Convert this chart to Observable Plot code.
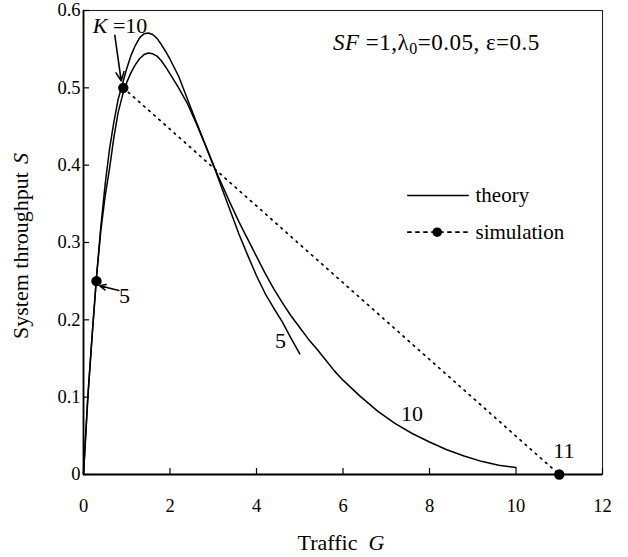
<!DOCTYPE html>
<html><head><meta charset="utf-8">
<script src="https://cdn.jsdelivr.net/npm/d3@7"></script>
<script src="https://cdn.jsdelivr.net/npm/@observablehq/plot@0.6"></script>
<style>
body{margin:0;background:#fff}
svg, svg text{font-family:"Liberation Serif","Times New Roman",Times,"DejaVu Serif",serif !important}
</style>
</head><body><div id="chart"></div><script>
// Theory curve K = 5
const g5 = [0,0.1,0.2,0.3,0.4,0.5,0.6,0.7,0.8,0.9,1.0,1.1,1.2,1.3,1.4,1.5,1.6,1.7,1.8,1.9,2.0,2.2,2.4,2.6,2.8,3.0,3.2,3.4,3.6,3.8,4.0,4.2,4.4,4.6,4.8,5.0];
const s5 = [0,0.10,0.18,0.255,0.32,0.375,0.42,0.455,0.485,0.505,0.525,0.542,0.555,0.565,0.570,0.571,0.569,0.564,0.556,0.547,0.537,0.515,0.486,0.457,0.429,0.401,0.370,0.340,0.310,0.283,0.257,0.234,0.215,0.197,0.176,0.156];
// Theory curve K = 10
const g10 = [0,0.1,0.2,0.3,0.4,0.5,0.6,0.7,0.8,0.9,1.0,1.1,1.2,1.3,1.4,1.5,1.6,1.7,1.8,1.9,2.0,2.2,2.4,2.6,2.8,3.0,3.2,3.4,3.6,3.8,4.0,4.2,4.4,4.6,4.8,5.0,5.2,5.4,5.6,5.8,6.0,6.4,6.8,7.2,7.6,8.0,8.4,8.8,9.2,9.6,10.0];
const s10 = [0,0.10,0.18,0.255,0.315,0.36,0.395,0.435,0.468,0.49,0.507,0.52,0.53,0.538,0.543,0.545,0.544,0.541,0.535,0.527,0.518,0.50,0.48,0.455,0.428,0.40,0.375,0.35,0.326,0.304,0.282,0.26,0.24,0.222,0.205,0.19,0.175,0.162,0.148,0.134,0.122,0.101,0.082,0.066,0.053,0.042,0.032,0.024,0.017,0.012,0.009];
// Simulation points
const simK = [5, 10, 11];
const simG = [0.3, 0.92, 11];
const simS = [0.25, 0.5, 0];
// Axes
const xTicks = [0,2,4,6,8,10,12];
const yTicks = [0,0.1,0.2,0.3,0.4,0.5,0.6];
const yTickLabels = ["0","0.1","0.2","0.3","0.4","0.5","0.6"];
const xTitle = "Traffic", xVar = "G";
const yTitle = "System throughput", yVar = "S";
const legendLabels = ["theory", "simulation"];

// Annotation anchors (data coordinates)
const curveLabels = [
  {t:"5", G:0.948, S:0.231},
  {t:"5", G:4.555, S:0.173},
  {t:"10", G:7.595, S:0.0785},
  {t:"11", G:11.105, S:0.031}
];
const arrows = [
  {x1:0.724, y1:0.568, x2:0.872, y2:0.509},
  {x1:0.816, y1:0.238, x2:0.377, y2:0.244}
];
const kLabelPos = {G:0.224, S:0.570};
const paramPos = {G:5.78, S:0.548};
const legendPos = {G1:7.484, G2:8.909, Gdot:8.178, Gtext:9.064, S:[0.3608, 0.3133]};

const theory = [
  ...g5.map((g,i)=>({K:5, G:g, S:s5[i]})),
  ...g10.map((g,i)=>({K:10, G:g, S:s10[i]}))
];
const sim = simG.map((g,i)=>({K:simK[i], G:g, S:simS[i]}));
const simLine = sim.filter(d=>d.K >= 10);

const legendRows = legendLabels.map((l,i)=>({label:l, G1:legendPos.G1, G2:legendPos.G2, S:legendPos.S[i]}));

const plot = Plot.plot({
  width: 628, height: 557,
  marginLeft: 83, marginRight: 26, marginTop: 10, marginBottom: 83,
  x: {domain:[0,12]},
  y: {domain:[0,0.6]},
  style: {fontSize:"18.5px", color:"#000", background:"#fff", overflow:"visible"},
  marks: [
    Plot.frame({stroke:"#222", strokeWidth:1.1}),
    Plot.ruleY([0], {stroke:"#000", strokeWidth:1.8}),
    Plot.ruleX([0], {stroke:"#000", strokeWidth:1.8}),
    Plot.axisX({ticks:xTicks, tickSize:-6, tickPadding:30, label:null, tickFormat:d=>String(d), stroke:"#000", strokeWidth:1.2}),
    Plot.axisY({ticks:yTicks, tickSize:-6, tickPadding:9, label:null, tickFormat:d=>yTickLabels[yTicks.indexOf(d)], stroke:"#000", strokeWidth:1.2}),
    Plot.line(theory, {x:"G", y:"S", z:"K", stroke:"#000", strokeWidth:1.5}),
    Plot.line(simLine, {x:"G", y:"S", stroke:"#000", strokeWidth:1.7, strokeDasharray:"1.6,5.2"}),
    Plot.dot(sim, {x:"G", y:"S", r:5.2, fill:"#000", stroke:null}),
    Plot.arrow(arrows, {x1:"x1", y1:"y1", x2:"x2", y2:"y2", stroke:"#000", strokeWidth:1.6, headLength:9, headAngle:50}),
    Plot.text(curveLabels, {x:"G", y:"S", text:"t", fontSize:22, lineAnchor:"middle", textAnchor:"middle", fill:"#000"}),
    // legend
    Plot.link(legendRows.slice(0,1), {x1:"G1", x2:"G2", y1:"S", y2:"S", stroke:"#000", strokeWidth:1.5}),
    Plot.link(legendRows.slice(1), {x1:"G1", x2:"G2", y1:"S", y2:"S", stroke:"#000", strokeWidth:1.7, strokeDasharray:"4.5,3.5"}),
    Plot.dot(legendRows.slice(1), {x:legendPos.Gdot, y:"S", r:4.8, fill:"#000", stroke:null}),
    Plot.text(legendRows, {x:legendPos.Gtext, y:"S", text:"label", fontSize:21, textAnchor:"start", lineAnchor:"middle", fill:"#000"})
  ]
});
document.getElementById("chart").appendChild(plot);

const X = plot.scale("x"), Y = plot.scale("y");
const svg = d3.select(plot);

// K = 10 label
const kt = svg.append("text").attr("x", X.apply(kLabelPos.G)).attr("y", Y.apply(kLabelPos.S))
  .attr("text-anchor","start").attr("font-size", 22).attr("fill", "#000");
kt.append("tspan").attr("font-style","italic").text("K");
kt.append("tspan").text(" =10");

// parameter text
const pt = svg.append("text").attr("x", X.apply(paramPos.G)).attr("y", Y.apply(paramPos.S))
  .attr("text-anchor","start").attr("font-size", 23).attr("letter-spacing", 0.5).attr("fill", "#000");
pt.append("tspan").attr("font-style","italic").text("SF");
pt.append("tspan").text(" =1,\u03bb");
pt.append("tspan").attr("font-size", 16).attr("dy", 4).text("0");
pt.append("tspan").attr("dy", -4).text("=0.05, \u03b5=0.5");

// axis titles
const xt = svg.append("text").attr("x", 341).attr("y", 550)
  .attr("text-anchor","middle").attr("font-size", 22).attr("fill","#000");
xt.append("tspan").text(xTitle);
xt.append("tspan").attr("dx", 11).attr("font-style","italic").text(xVar);

const yt = svg.append("text").attr("transform", `translate(28,246) rotate(-90)`)
  .attr("text-anchor","middle").attr("font-size", 22).attr("fill","#000");
yt.append("tspan").text(yTitle);
yt.append("tspan").attr("dx", 8).attr("font-style","italic").text(yVar);
</script></body></html>
